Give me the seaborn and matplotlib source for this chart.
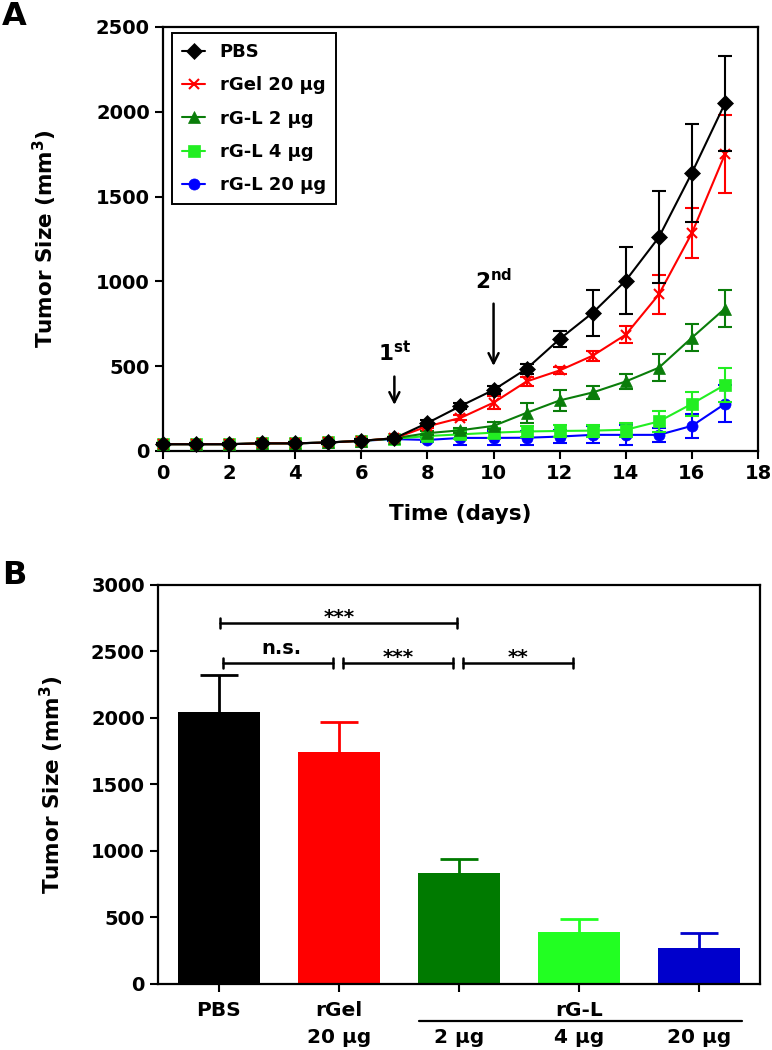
import numpy as np
import pandas as pd
import matplotlib
import matplotlib.pyplot as plt
import matplotlib.transforms as mtransforms
import seaborn as sns

matplotlib.use('Agg')
sns.set_style("ticks")
plt.rcParams['font.family'] = ['DejaVu Sans']
plt.rcParams['font.weight'] = 'bold'
plt.rcParams['mathtext.default'] = 'bf'
plt.rcParams['text.color'] = 'black'
plt.rcParams['axes.labelcolor'] = 'black'

# 腫瘤生長曲線資料 (Panel A)
days = list(range(18))
series_names = ["PBS", "rGel 20 μg", "rG-L 2 μg", "rG-L 4 μg", "rG-L 20 μg"]
series_colors = ["#000000", "#FF0000", "#0A7D0A", "#22EE22", "#0000FF"]
series_markers = ["D", "x", "^", "s", "o"]

pbs_mean = [40, 40, 40, 45, 45, 50, 60, 75, 165, 265, 360, 485, 660, 815, 1005, 1260, 1640, 2050]
pbs_err = [6, 6, 6, 6, 6, 6, 8, 10, 15, 20, 25, 30, 48, 137, 197, 270, 290, 280]
rgel_mean = [40, 40, 40, 45, 45, 50, 60, 75, 145, 195, 285, 410, 475, 562, 686, 923, 1285, 1750]
rgel_err = [6, 6, 6, 6, 6, 6, 8, 10, 12, 15, 40, 25, 20, 30, 50, 115, 150, 230]
rgl2_mean = [40, 40, 40, 45, 45, 50, 60, 75, 105, 122, 148, 225, 298, 345, 410, 491, 668, 840]
rgl2_err = [6, 6, 6, 6, 6, 6, 8, 10, 12, 15, 20, 60, 60, 40, 45, 80, 80, 110]
rgl4_mean = [40, 40, 40, 45, 45, 50, 60, 72, 88, 98, 108, 115, 118, 120, 125, 174, 278, 390]
rgl4_err = [6, 6, 6, 6, 6, 6, 8, 10, 15, 25, 30, 35, 35, 35, 40, 60, 70, 100]
rgl20_mean = [40, 40, 40, 45, 45, 50, 60, 70, 65, 77, 77, 78, 85, 95, 95, 95, 148, 278]
rgl20_err = [6, 6, 6, 6, 6, 6, 8, 10, 15, 40, 40, 40, 40, 50, 60, 40, 70, 110]

means = [pbs_mean, rgel_mean, rgl2_mean, rgl4_mean, rgl20_mean]
errs = [pbs_err, rgel_err, rgl2_err, rgl4_err, rgl20_err]

# 第 17 天腫瘤大小 (Panel B)
groups = ["PBS", "rGel 20 μg", "rG-L 2 μg", "rG-L 4 μg", "rG-L 20 μg"]
bar_vals = [2045, 1742, 837, 388, 273]
bar_errs = [275, 230, 105, 102, 110]
bar_colors = ["#000000", "#FF0000", "#007A00", "#22FF22", "#0000CC"]
bar_ticklabels = ["PBS\n ", "rGel\n20 μg", " \n2 μg", "rG-L\n4 μg", " \n20 μg"]

fig = plt.figure(figsize=(7.72, 10.5), dpi=100)
axA = fig.add_axes([0.2111, 0.5705, 0.7708, 0.4038])
axB = fig.add_axes([0.2047, 0.0629, 0.7798, 0.3800])

for ax in (axA, axB):
    for sp in ax.spines.values():
        sp.set_linewidth(1.6)
        sp.set_color("black")
    ax.tick_params(width=1.5, length=6, labelsize=14, direction="out", colors="black")

# ---- Panel A ----
n = len(series_names)
for i in range(n):
    z = 10 + (n - i) * 2
    df = pd.DataFrame({"day": days, "size": means[i]})
    sns.lineplot(x="day", y="size", data=df, ax=axA, color=series_colors[i],
                 marker=series_markers[i], markersize=8 if series_markers[i] != "x" else 7,
                 markeredgewidth=1.5 if series_markers[i] == "x" else 0.5,
                 markeredgecolor=series_colors[i], linewidth=1.5, label=series_names[i],
                 errorbar=None, zorder=z, clip_on=False)
    axA.errorbar(days, means[i], yerr=errs[i], fmt="none", ecolor=series_colors[i],
                 elinewidth=1.5, capsize=5, capthick=1.5, zorder=z - 1, clip_on=False)

axA.set_xlim(0, 18)
axA.set_ylim(0, 2500)
axA.set_xticks(range(0, 19, 2))
axA.set_yticks(range(0, 2501, 500))
axA.set_xlabel("Time (days)", fontsize=15.5, fontweight="bold")
axA.set_ylabel("Tumor Size (mm$^{3}$)", fontsize=15.5, fontweight="bold")
axA.xaxis.set_label_coords(0.5, -0.125)
axA.yaxis.set_label_coords(-0.175, 0.5)

leg = axA.legend(loc="upper left", bbox_to_anchor=(0.015, 0.986), borderaxespad=0,
                 fontsize=13, handlelength=1.3, labelspacing=0.85, fancybox=False,
                 framealpha=1, edgecolor="black", borderpad=0.55)
leg.get_frame().set_linewidth(1.4)

# 給藥箭頭
axA.annotate("", xy=(7, 255), xytext=(7, 455),
             arrowprops=dict(arrowstyle="->", lw=1.8, color="black", mutation_scale=18))
axA.text(7, 505, "1$^{st}$", ha="center", va="bottom", fontsize=15.5)
axA.annotate("", xy=(10, 485), xytext=(10, 885),
             arrowprops=dict(arrowstyle="->", lw=1.8, color="black", mutation_scale=18))
axA.text(10, 930, "2$^{nd}$", ha="center", va="bottom", fontsize=15.5)

# ---- Panel B ----
xpos = np.arange(len(groups))
sns.barplot(x=groups, y=bar_vals, hue=groups, palette=bar_colors, legend=False,
            width=0.68, ax=axB, linewidth=0, saturation=1)
for i in range(len(groups)):
    eb = axB.errorbar(xpos[i], bar_vals[i], yerr=[[0], [bar_errs[i]]], fmt="none",
                      ecolor=bar_colors[i], elinewidth=2, capsize=14, capthick=2)
    eb[1][0].remove()  # 只保留上方的誤差帽

axB.set_xlim(-0.508, 4.508)
axB.set_ylim(0, 3000)
axB.set_yticks(range(0, 3001, 500))
axB.set_xticks(xpos)
axB.set_xticklabels(bar_ticklabels, fontsize=14.5, linespacing=1.55)
axB.tick_params(axis="x", pad=6)
axB.set_xlabel("")
axB.set_ylabel("Tumor Size (mm$^{3}$)", fontsize=15.5, fontweight="bold")
axB.yaxis.set_label_coords(-0.153, 0.5)

trans = mtransforms.blended_transform_factory(axB.transData, axB.transAxes)
axB.plot([1.67, 4.36], [-0.093, -0.093], color="black", lw=1.6, transform=trans, clip_on=False)

# 顯著性標示
brackets = [(0.01, 1.98, 2714, "***", 1.0),
            (0.03, 0.95, 2413, "n.s.", 0.52),
            (1.03, 1.95, 2413, "***", 1.49),
            (2.03, 2.95, 2413, "**", 2.49)]
for x1, x2, y, lab, xt in brackets:
    axB.plot([x1, x2], [y, y], color="black", lw=1.8)
    axB.plot([x1, x1], [y - 38, y + 38], color="black", lw=1.8)
    axB.plot([x2, x2], [y - 38, y + 38], color="black", lw=1.8)
    if lab == "n.s.":
        axB.text(xt, y + 40, lab, ha="center", va="bottom", fontsize=14)
    else:
        axB.text(xt, y - 30, lab, ha="center", va="bottom", fontsize=14.5)

fig.text(0.003, 0.999, "A", fontsize=23, fontweight="bold", va="top", ha="left")
fig.text(0.003, 0.467, "B", fontsize=23, fontweight="bold", va="top", ha="left")

plt.savefig("out.png", dpi=100)
plt.close()
